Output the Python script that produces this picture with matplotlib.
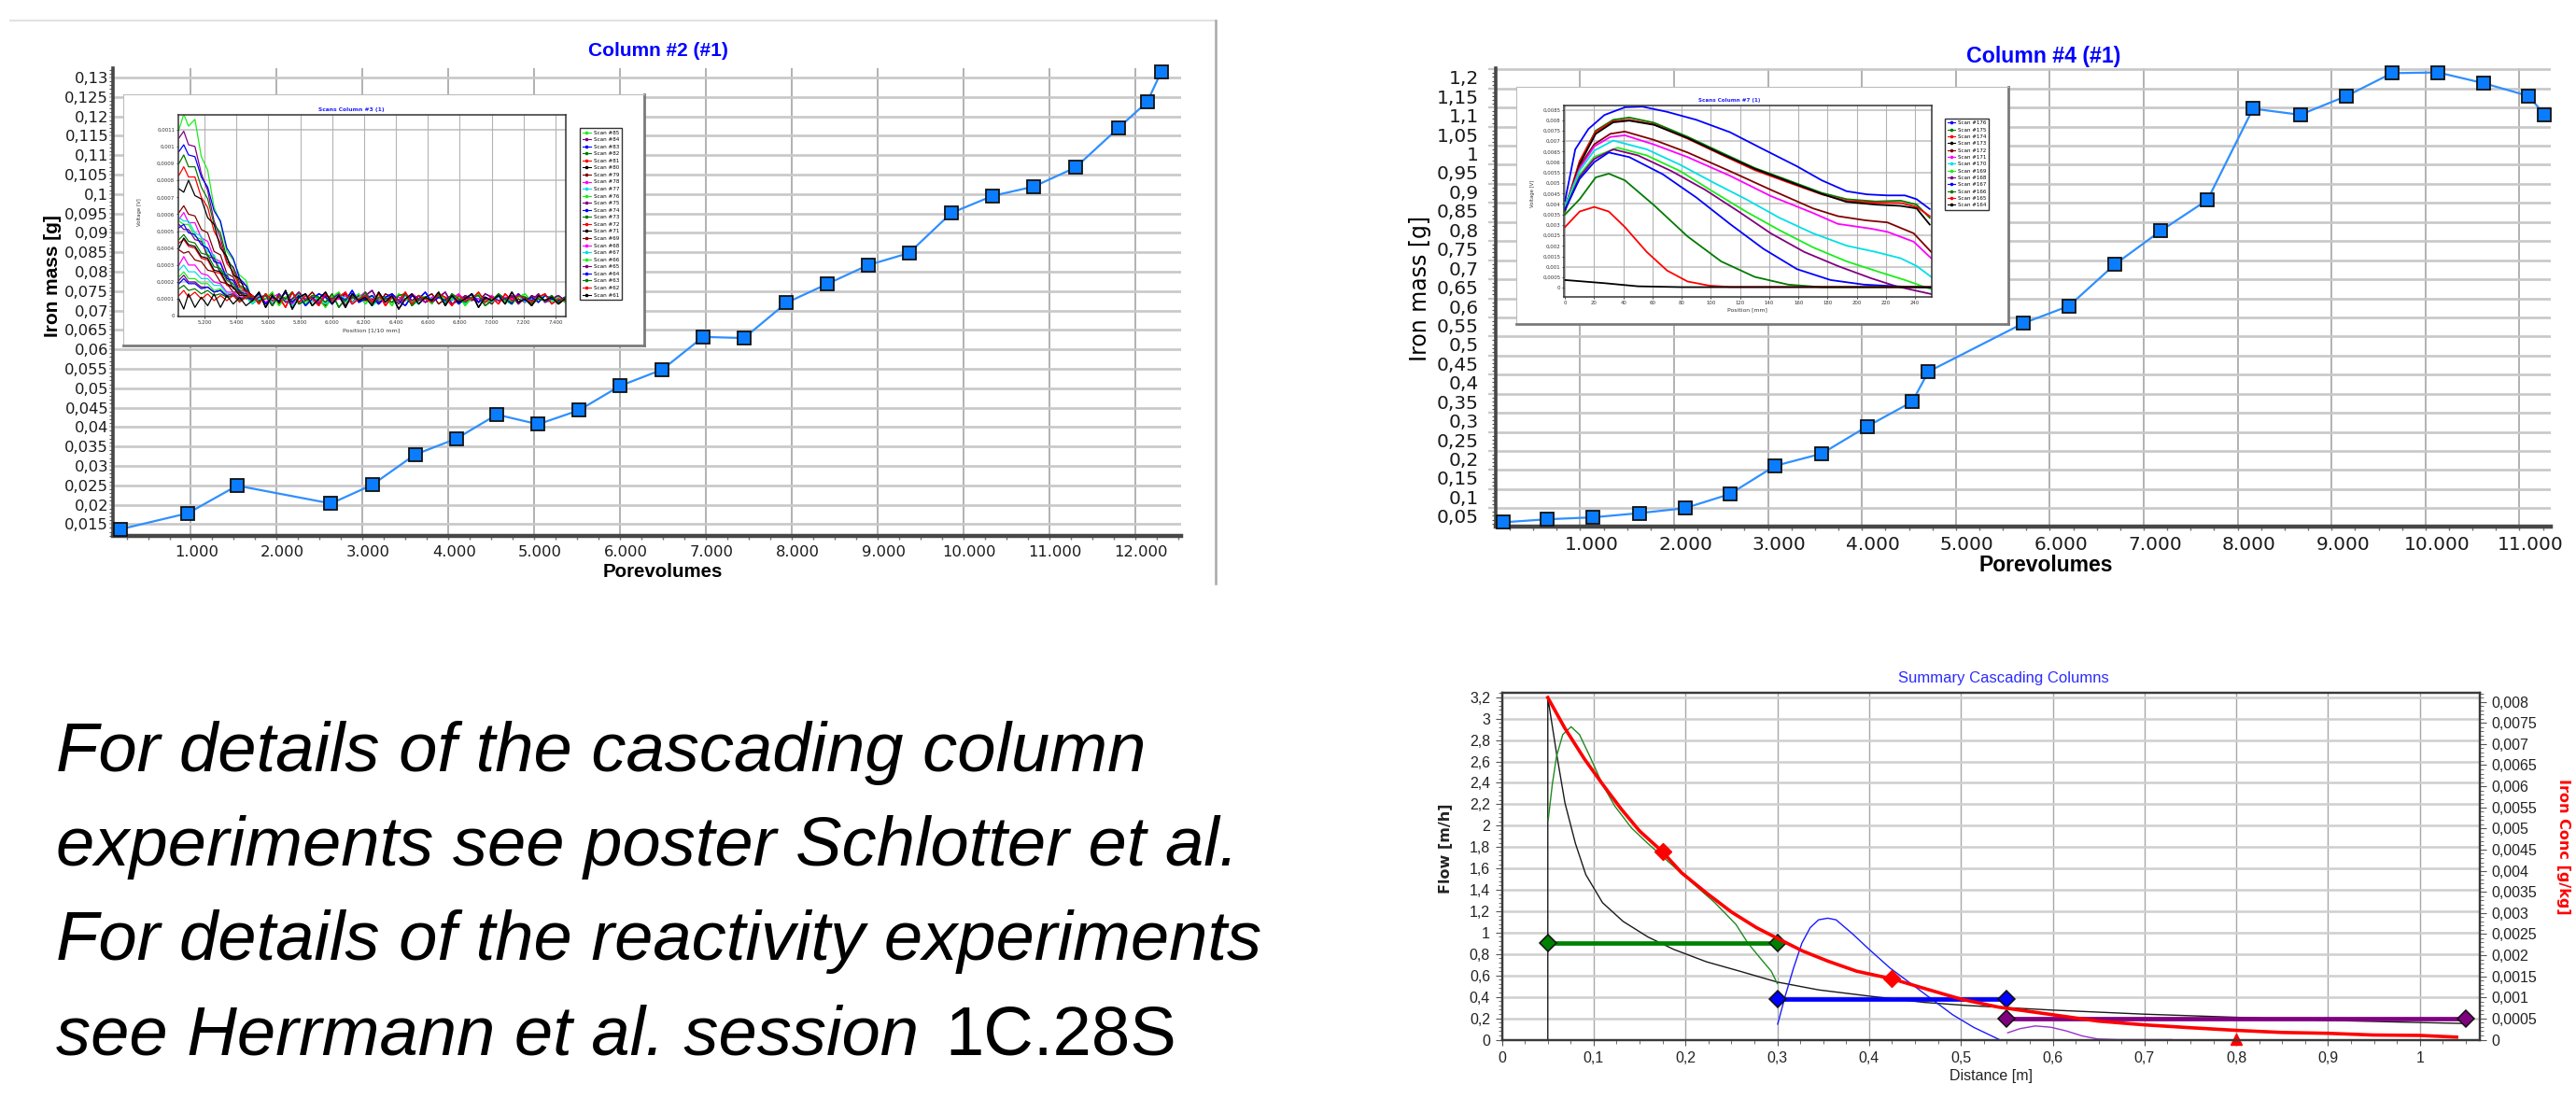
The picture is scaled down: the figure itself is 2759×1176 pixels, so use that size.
import numpy as np
import matplotlib
matplotlib.use("Agg")
import matplotlib.pyplot as plt
from matplotlib.lines import Line2D
from matplotlib.ticker import MultipleLocator, FuncFormatter
from matplotlib.transforms import ScaledTranslation

W, H = 2759, 1176
plt.rcParams['font.family'] = ['DejaVu Sans']

# ---------------- data ----------------
# Column #2 (#1): porevolumes vs iron mass [g]
pv_col2 = [184, 965, 1538, 2631, 3112, 3611, 4092, 4563, 5043, 5519, 6000, 6491, 6966,
           7443, 7937, 8408, 8889, 9365, 9856, 10336, 10816, 11302, 11803, 12138, 12303]
fe_col2 = [0.0137, 0.0178, 0.0249, 0.0203, 0.0251, 0.0329, 0.0370, 0.0432, 0.0407, 0.0443,
           0.0506, 0.0548, 0.0632, 0.0629, 0.0720, 0.0768, 0.0817, 0.0848, 0.0951, 0.0995,
           0.1019, 0.1068, 0.1170, 0.1237, 0.1315]

# Column #4 (#1)
pv_col4 = [177, 650, 1133, 1628, 2115, 2593, 3075, 3571, 4053, 4535, 4708, 5721,
           6205, 6693, 7182, 7679, 8164, 8665, 9158, 9642, 10131, 10616, 11100, 11267]
fe_col4 = [0.013, 0.021, 0.026, 0.037, 0.050, 0.087, 0.161, 0.193, 0.264, 0.329, 0.408, 0.535,
           0.580, 0.689, 0.777, 0.858, 1.097, 1.081, 1.130, 1.190, 1.192, 1.164, 1.130, 1.081]

# Scans Column #3 (1) -- voltage in 1e-5 V
scans3 = [85, 84, 83, 82, 81, 80, 79, 78, 77, 76, 75, 74, 73, 72, 71, 69, 68, 67, 66, 65, 64, 63, 62, 61]
pos3_head = [5040, 5070, 5100, 5140, 5180, 5220, 5260, 5300, 5340, 5380, 5420, 5460]
head3 = [
    [110, 119, 112, 116, 94, 86, 64, 55, 38, 33, 24, 21],
    [105, 109, 101, 100, 84, 74, 56, 46, 32, 29, 20, 18],
    [97, 101, 95, 94, 82, 76, 62, 56, 40, 34, 22, 18],
    [90, 95, 88, 88, 76, 69, 54, 49, 34, 28, 18, 16],
    [83, 88, 82, 82, 70, 64, 50, 43, 31, 26, 17, 15],
    [75, 73, 80, 71, 69, 58, 54, 40, 35, 24, 22, 14],
    [61, 65, 60, 59, 51, 49, 38, 36, 25, 23, 15, 15],
    [57, 61, 55, 55, 46, 44, 34, 32, 22, 21, 14, 14],
    [58, 56, 56, 49, 47, 38, 36, 27, 25, 17, 16, 11],
    [56, 54, 54, 47, 45, 36, 35, 26, 24, 16, 16, 11],
    [54, 51, 51, 45, 44, 35, 34, 25, 24, 16, 15, 11],
    [52, 54, 49, 48, 42, 40, 32, 31, 22, 21, 14, 13],
    [45, 48, 44, 43, 37, 36, 29, 28, 21, 19, 13, 13],
    [43, 45, 41, 40, 34, 33, 26, 25, 18, 17, 12, 12],
    [40, 46, 42, 41, 35, 34, 27, 26, 19, 17, 12, 12],
    [39, 37, 38, 33, 32, 27, 26, 20, 19, 14, 14, 10],
    [30, 35, 30, 30, 25, 24, 20, 19, 14, 14, 11, 11],
    [27, 30, 26, 26, 22, 22, 18, 18, 13, 13, 10, 11],
    [23, 26, 22, 22, 19, 19, 15, 16, 12, 13, 10, 11],
    [21, 24, 20, 20, 17, 17, 14, 15, 12, 13, 10, 11],
    [19, 22, 19, 19, 16, 17, 14, 15, 11, 12, 9, 11],
    [16, 18, 15, 16, 13, 15, 12, 13, 11, 12, 9, 11],
    [12, 15, 11, 14, 10, 13, 9, 12, 9, 12, 8, 11],
    [10, 4, 13, 5, 11, 6, 13, 5, 12, 7, 11, 6],
]
tail3 = {
    'black':   [9, 14, 5, 12, 8, 15, 4, 11, 13, 6, 10, 14, 7, 12, 5, 13, 9, 11, 6, 14, 8, 12, 4, 10,
                13, 7, 11, 9, 14, 6, 12, 8, 10, 13, 5, 11, 9, 12, 7, 14, 8, 10, 6, 12, 9, 11, 7, 10],
    'red':     [12, 7, 13, 9, 11, 5, 14, 8, 12, 10, 6, 13, 9, 11, 14, 7, 10, 12, 8, 13, 6, 11, 9, 14,
                7, 12, 10, 8, 13, 11, 6, 12, 9, 10, 14, 8, 11, 7, 13, 9, 12, 10, 8, 11, 13, 7, 10, 9],
    'lime':    [8, 12, 10, 14, 6, 11, 9, 13, 7, 12, 10, 5, 11, 14, 8, 10, 13, 7, 12, 9, 11, 6, 13, 10,
                8, 12, 11, 7, 14, 9, 10, 12, 6, 11, 13, 8, 10, 12, 9, 7, 11, 13, 8, 10, 12, 9, 11, 8],
    'green':   [11, 8, 13, 6, 12, 10, 14, 7, 9, 12, 11, 8, 13, 5, 10, 12, 9, 14, 7, 11, 10, 8, 12, 13,
                6, 10, 11, 9, 12, 7, 13, 10, 8, 11, 12, 6, 9, 13, 10, 8, 12, 11, 7, 10, 9, 12, 8, 11],
    'blue':    [10, 13, 7, 11, 9, 14, 8, 12, 6, 10, 13, 11, 7, 12, 9, 15, 8, 10, 12, 7, 11, 13, 9, 6,
                12, 10, 14, 8, 11, 9, 12, 7, 10, 13, 8, 11, 9, 12, 10, 7, 13, 9, 11, 8, 12, 10, 9, 11],
    'purple':  [9, 11, 12, 6, 13, 8, 10, 14, 9, 11, 7, 12, 10, 13, 6, 11, 9, 12, 15, 8, 10, 11, 7, 13,
                9, 12, 8, 10, 11, 14, 7, 9, 12, 10, 8, 13, 11, 9, 10, 12, 7, 11, 9, 13, 8, 10, 12, 9],
    'maroon':  [12, 9, 10, 13, 7, 11, 8, 12, 10, 14, 9, 6, 11, 10, 13, 8, 12, 9, 10, 7, 13, 11, 8, 10,
                12, 9, 11, 13, 7, 10, 12, 8, 11, 9, 13, 10, 7, 12, 9, 11, 10, 8, 12, 10, 9, 11, 8, 10],
    'magenta': [10, 12, 8, 11, 13, 9, 7, 12, 10, 11, 8, 13, 9, 10, 12, 7, 11, 14, 9, 10, 8, 12, 11, 9,
                13, 10, 8, 11, 12, 7, 10, 13, 9, 11, 10, 8, 12, 9, 11, 10, 13, 8, 10, 12, 9, 11, 10, 9],
    'cyan':    [7, 10, 12, 8, 11, 9, 6, 10, 12, 8, 11, 7, 9, 13, 10, 8, 11, 12, 6, 9, 11, 10, 8, 12,
                9, 7, 11, 10, 12, 8, 9, 11, 7, 10, 12, 9, 8, 11, 10, 9, 12, 8, 10, 11, 9, 8, 10, 9],
}

# Scans Column #7 (1) -- position [mm], voltage in 1e-4 V
scans7 = [176, 175, 174, 173, 172, 171, 170, 169, 168, 167, 166, 165, 164]
pos7 = [
    [0, 7, 16, 27, 41, 53, 70, 90, 113, 136, 159, 176, 193, 207, 221, 233, 241, 250],
    [0, 10, 21, 33, 44, 61, 84, 107, 130, 153, 176, 193, 213, 230, 241, 250],
    [0, 10, 21, 33, 44, 61, 84, 107, 130, 153, 176, 193, 213, 230, 241, 250],
    [0, 10, 21, 33, 44, 61, 84, 107, 130, 153, 176, 193, 213, 230, 241, 250],
    [0, 10, 20, 31, 41, 61, 84, 113, 141, 170, 187, 206, 221, 239, 251],
    [0, 10, 20, 31, 41, 61, 84, 113, 141, 170, 187, 210, 221, 239, 251],
    [0, 10, 20, 33, 56, 79, 101, 124, 147, 170, 193, 213, 230, 241, 251],
    [0, 10, 20, 36, 56, 79, 101, 124, 147, 170, 193, 216, 233, 251],
    [0, 10, 20, 33, 50, 73, 96, 119, 141, 164, 187, 210, 227, 251],
    [0, 10, 20, 30, 44, 67, 90, 113, 136, 159, 182, 205, 228, 251],
    [0, 10, 21, 30, 41, 61, 84, 107, 130, 153, 176, 251],
    [0, 10, 20, 30, 41, 56, 70, 84, 99, 113, 251],
    [0, 27, 50, 80, 120, 251],
]
volt7 = [
    [41.6, 66.1, 75.8, 82.5, 86.2, 86.5, 84.0, 80.2, 74.3, 66.1, 58.0, 51.3, 46.1, 44.6, 44.1, 44.1, 42.3, 37.6],
    [36.4, 60.2, 75.0, 80.2, 81.3, 78.8, 72.1, 64.6, 57.2, 51.3, 45.3, 42.3, 41.2, 41.6, 39.7, 33.4],
    [37.9, 60.5, 74.5, 79.5, 80.2, 78.0, 71.2, 63.6, 56.2, 50.3, 44.6, 41.5, 40.6, 40.5, 38.6, 34.2],
    [37.5, 59.0, 73.5, 79.0, 79.8, 77.8, 71.5, 64.0, 56.8, 50.8, 44.8, 41.0, 39.7, 39.1, 37.9, 30.2],
    [39.0, 58.0, 68.5, 73.5, 74.6, 70.6, 64.6, 55.7, 46.8, 37.9, 34.2, 32.2, 31.2, 26.0, 17.1],
    [38.5, 57.0, 67.5, 72.0, 72.8, 68.4, 62.4, 53.5, 43.8, 35.7, 30.5, 28.2, 26.7, 22.0, 14.1],
    [39.0, 56.0, 65.5, 70.3, 66.1, 58.7, 50.5, 42.3, 33.4, 26.0, 20.1, 17.1, 14.1, 10.4, 5.2],
    [38.0, 54.0, 62.5, 66.9, 63.2, 55.7, 46.1, 36.4, 27.5, 19.3, 12.6, 7.4, 3.7, -0.7],
    [37.0, 53.0, 61.5, 66.1, 63.2, 55.7, 46.8, 36.4, 26.0, 17.1, 10.4, 4.5, 0.7, -3.0],
    [37.5, 52.0, 60.0, 64.6, 62.4, 54.2, 43.1, 30.5, 18.6, 8.9, 3.7, 1.5, 0.7, 0.0],
    [35.0, 42.3, 52.7, 54.5, 51.3, 39.4, 24.5, 12.6, 5.2, 1.5, 0.3, 0.3],
    [29.0, 36.4, 38.6, 36.4, 29.0, 17.1, 8.2, 3.0, 1.0, 0.4, 0.4],
    [3.7, 2.2, 0.7, 0.3, 0.3, 0.3],
]

# Summary Cascading Columns
dist_black = [0.05, 0.05, 0.0595, 0.0687, 0.0801, 0.0914, 0.1096, 0.132, 0.159, 0.187, 0.223, 0.259,
              0.3, 0.345, 0.4, 0.459, 0.505, 0.6, 0.7, 0.8, 0.9, 1.0, 1.049]
flow_black = [0, 3.2, 2.676, 2.211, 1.833, 1.542, 1.28, 1.105, 0.96, 0.844, 0.727, 0.64,
              0.538, 0.465, 0.407, 0.349, 0.32, 0.276, 0.238, 0.209, 0.18, 0.16, 0.151]
dist_green = [0.0504, 0.0549, 0.0595, 0.0663, 0.0754, 0.0845, 0.0958, 0.1096, 0.123, 0.1412, 0.159,
              0.182, 0.2049, 0.232, 0.255, 0.268, 0.282, 0.2934, 0.3]
flow_green = [2.05, 2.385, 2.647, 2.851, 2.924, 2.851, 2.647, 2.385, 2.182, 1.978, 1.833,
              1.658, 1.484, 1.28, 1.076, 0.902, 0.756, 0.64, 0.524]
dist_blue = [0.3004, 0.3086, 0.3177, 0.3268, 0.3359, 0.345, 0.355, 0.364, 0.3819, 0.4, 0.4228,
             0.4455, 0.4683, 0.491, 0.5137, 0.542]
flow_blue = [0.145, 0.407, 0.669, 0.902, 1.047, 1.12, 1.135, 1.12, 0.989, 0.844, 0.669,
             0.524, 0.378, 0.233, 0.116, 0.0]
dist_purple = [0.551, 0.564, 0.581, 0.598, 0.615, 0.632, 0.649, 0.671, 0.73]
flow_purple = [0.064, 0.102, 0.128, 0.116, 0.081, 0.035, 0.006, 0.0, 0.0]
bar_start = [0.05, 0.3, 0.55]
bar_end = [0.3, 0.55, 1.05]
bar_flow = [0.9, 0.38, 0.2]
bar_colors = ['#008000', '#0000ff', '#800080']
dist_red = [0.05, 0.0687, 0.0901, 0.1096, 0.13, 0.15, 0.1744, 0.1958, 0.223, 0.2502, 0.2775, 0.3,
            0.3275, 0.355, 0.3865, 0.425, 0.459, 0.5, 0.541, 0.6, 0.649, 0.7, 0.752, 0.8, 0.85,
            0.9, 0.949, 1.0, 1.04]
conc_red = [0.0081, 0.00737, 0.00664, 0.00605, 0.00546, 0.00494, 0.00446, 0.00395, 0.00347,
            0.00302, 0.00265, 0.0024, 0.0021, 0.00186, 0.00162, 0.00144, 0.00122, 0.00096,
            0.00077, 0.00059, 0.00044, 0.00035, 0.00028, 0.00022, 0.00017, 0.00015, 0.00011,
            0.0001, 0.00006]
red_marks_d = [0.175, 0.425]
red_marks_c = [0.00446, 0.00144]

note_lines = ["For details of the cascading column",
              "experiments see poster Schlotter et al.",
              "For details of the reactivity experiments",
              "see Herrmann et al. session "]
note_code = "1C.28S"

COL = {'lime': '#1aee1a', 'purple': '#800080', 'blue': '#0000ff', 'green': '#007a00',
       'red': '#ff0000', 'black': '#000000', 'maroon': '#800000', 'magenta': '#ff00ff',
       'cyan': '#00e0e6'}
order3 = ['lime', 'purple', 'blue', 'green', 'red', 'black', 'maroon', 'magenta', 'cyan']
order7 = ['blue', 'green', 'red', 'black', 'maroon', 'magenta', 'cyan', 'lime', 'purple']

# ---------------- helpers ----------------
fig = plt.figure(figsize=(W / 100, H / 100), dpi=100)
fig.patch.set_facecolor('white')


def rect(x0, y0, x1, y1):
    return [x0 / W, 1 - y1 / H, (x1 - x0) / W, (y1 - y0) / H]


def ftext(x, y, s, **kw):
    kw.setdefault('ha', 'center')
    kw.setdefault('va', 'center')
    return fig.text(x / W, 1 - y / H, s, **kw)


def shift(labels, dx, dy):
    for t in labels:
        t.set_transform(t.get_transform() + ScaledTranslation(dx / 100, -dy / 100, fig.dpi_scale_trans))


thou = FuncFormatter(lambda v, p: f"{int(round(v)):,}".replace(",", "."))


def comma(nd):
    return FuncFormatter(lambda v, p: f"{v:.{nd}f}".rstrip("0").rstrip(".").replace(".", ","))


def column_panel(r, pv, fe, xlim, ylim, yticks, ynd, yminor, fs, ypad, ylen):
    ax = fig.add_axes(rect(*r))
    ax.plot(pv, fe, color='#2f8fff', lw=1.6, marker='s', ms=9.5, mfc='#0a7cff',
            mec='#111111', mew=1.3, zorder=3, clip_on=False)
    ax.set_xlim(xlim)
    ax.set_ylim(ylim)
    ax.set_xticks(range(1000, int(xlim[1]) + 1, 1000))
    ax.xaxis.set_minor_locator(MultipleLocator(250))
    ax.set_yticks(yticks)
    ax.yaxis.set_minor_locator(MultipleLocator(yminor))
    ax.xaxis.set_major_formatter(thou)
    ax.yaxis.set_major_formatter(comma(ynd))
    ax.grid(axis='y', color='#c8c8c8', lw=1.9)
    ax.grid(axis='x', color='#ababab', lw=1.3)
    ax.set_axisbelow(True)
    ax.spines['top'].set_visible(False)
    ax.spines['right'].set_visible(False)
    ax.spines['bottom'].set_color('#474747')
    ax.spines['bottom'].set_linewidth(3.2)
    ax.spines['left'].set_color('#474747')
    ax.spines['left'].set_linewidth(2.6)
    ax.tick_params(axis='x', which='both', direction='out', length=3, width=1, color='#777777',
                   labelsize=fs, labelcolor='#1a1a1a', pad=4)
    ax.tick_params(axis='y', which='major', length=ylen, width=1.6, color='#c8c8c8',
                   labelsize=fs, labelcolor='#1a1a1a', pad=ypad)
    ax.tick_params(axis='y', which='minor', length=3, width=0.8, color='#555555')
    return ax


def inset_panel(box, inner, xlim, ylim, xticks, yticks, xfmt, yfmt, gridy):
    bx = fig.add_axes(rect(*box))
    bx.set_xticks([])
    bx.set_yticks([])
    for s in ['left', 'top']:
        bx.spines[s].set_color('#bdbdbd')
    for s in ['right', 'bottom']:
        bx.spines[s].set_color('#7a7a7a')
        bx.spines[s].set_linewidth(2)
    ia = fig.add_axes(rect(*inner))
    ia.set_xlim(xlim)
    ia.set_ylim(ylim)
    ia.set_xticks(xticks)
    ia.set_yticks(yticks)
    ia.xaxis.set_major_formatter(xfmt)
    ia.yaxis.set_major_formatter(yfmt)
    ia.grid(axis='x', color='#b4b4b4', lw=0.8)
    for g in gridy:
        ia.axhline(g, color='#c4c4c4', lw=1.2, zorder=0)
    ia.set_axisbelow(True)
    for s in ia.spines.values():
        s.set_color('#333333')
        s.set_linewidth(1.1)
    ia.tick_params(which='both', labelsize=3.9, length=1.5, width=0.5, pad=1.2, labelcolor='#333333')
    return ia


# ---------------- Column #2 panel ----------------
ax1 = column_panel((121, 73, 1265, 574), pv_col2, fe_col2, (92, 12533), (0.01195, 0.1324),
                   [round(0.015 + 0.005 * i, 3) for i in range(24)], 3, 0.001, 11.8, 0.5, 3)
shift(ax1.get_xticklabels(), 6, 0)
ftext(705, 55, "Column #2 (#1)", color='#0000ff', fontsize=15, fontweight='bold', family='Liberation Sans')
ftext(57, 296, "Iron mass [g]", rotation=90, fontsize=15, fontweight='bold', family='Liberation Sans')
ftext(710, 612, "Porevolumes", fontsize=14.8, fontweight='bold', family='Liberation Sans')
fig.add_artist(Line2D([11 / W, 1302 / W], [1 - 22 / H, 1 - 22 / H], color='#e2e2e2', lw=1.5))
fig.add_artist(Line2D([1302 / W, 1302 / W], [1 - 22 / H, 1 - 625 / H], color='#a8a8a8', lw=1.8))

in1 = inset_panel((132, 101, 690, 369.6), (191, 123.3, 606, 339.3), (5036, 7465), (-0.0000055, 0.001185),
                  range(5200, 7401, 200), [round(0.0001 * i, 4) for i in range(12)], thou, comma(4),
                  [0.0002, 0.0005, 0.0008, 0.0011])
pos3_tail = np.linspace(5500, 7460, len(tail3['black']))
for i, sc in enumerate(scans3):
    c = order3[i % 9]
    xs = list(pos3_head) + list(pos3_tail)
    ys = [v * 1e-5 for v in head3[i] + tail3[c]]
    in1.plot(xs, ys, color=COL[c], lw=0.9)
h1 = [Line2D([], [], color=COL[order3[i % 9]], lw=0.8, marker='o', ms=1.6) for i in range(len(scans3))]
in1.legend(h1, [f"Scan #{s}" for s in scans3], loc='upper left', bbox_to_anchor=(621 / W, 1 - 137 / H),
           bbox_transform=fig.transFigure, fontsize=4.1, frameon=True, fancybox=False, edgecolor='#333333',
           borderpad=0.45, labelspacing=0.45, handlelength=1.6, handletextpad=0.5, borderaxespad=0,
           framealpha=1)
ftext(376, 117, "Scans Column #3 (1)", color='#2020ff', fontsize=4.3, fontweight='bold')
ftext(150, 227, "Voltage [V]", rotation=90, fontsize=3.9, color='#333333')
ftext(398, 354, "Position [1/10 mm]", fontsize=4.6, color='#333333')

# ---------------- Column #4 panel ----------------
ax2 = column_panel((1601.7, 73.3, 2731.8, 564), pv_col4, fe_col4, (98, 11332), (0.0018, 1.2024),
                   [round(0.05 * i, 2) for i in range(1, 25)], 2, 0.01, 14.5, 7, 6)
shift(ax2.get_xticklabels(), 12, 0)
shift(ax2.get_yticklabels(), 0, 8.5)
ftext(2189, 60, "Column #4 (#1)", color='#0000ff', fontsize=16.7, fontweight='bold', family='Liberation Sans')
ftext(1521, 309, "Iron mass [g]", rotation=90, fontsize=17)
ftext(2191, 605, "Porevolumes", fontsize=16.5, fontweight='bold', family='Liberation Sans')

in2 = inset_panel((1623.5, 93.3, 2150.7, 346.7), (1675.3, 113.3, 2069, 318.3), (-0.6, 251.4),
                  (-0.00045, 0.00869), range(0, 241, 20), [round(0.0005 * i, 4) for i in range(18)],
                  FuncFormatter(lambda v, p: f"{int(round(v))}"), comma(4),
                  [0.001, 0.0025, 0.004, 0.0055, 0.007, 0.0085])
for i, sc in enumerate(scans7):
    in2.plot(pos7[i], [v * 1e-4 for v in volt7[i]], color=COL[order7[i % 9]], lw=1.3)
h2 = [Line2D([], [], color=COL[order7[i % 9]], lw=0.8, marker='o', ms=1.6) for i in range(len(scans7))]
in2.legend(h2, [f"Scan #{s}" for s in scans7], loc='upper left', bbox_to_anchor=(2083 / W, 1 - 126.7 / H),
           bbox_transform=fig.transFigure, fontsize=4.0, frameon=True, fancybox=False, edgecolor='#333333',
           borderpad=0.45, labelspacing=0.42, handlelength=1.6, handletextpad=0.5, borderaxespad=0,
           framealpha=1)
ftext(1852, 108, "Scans Column #7 (1)", color='#2020ff', fontsize=4.1, fontweight='bold')
ftext(1642, 207, "Voltage [V]", rotation=90, fontsize=3.8, color='#333333')
ftext(1871, 332, "Position [mm]", fontsize=4.4, color='#333333')

# ---------------- Summary Cascading Columns ----------------
ax3 = fig.add_axes(rect(1608.6, 741.7, 2655.7, 1113.5))
ax3.set_xlim(0, 1.065)
ax3.set_ylim(0, 3.244)
ax3.set_xticks([round(0.1 * i, 1) for i in range(11)])
ax3.xaxis.set_minor_locator(MultipleLocator(0.025))
ax3.set_yticks([round(0.2 * i, 1) for i in range(17)])
ax3.yaxis.set_minor_locator(MultipleLocator(0.04))
ax3.xaxis.set_major_formatter(comma(1))
ax3.yaxis.set_major_formatter(comma(1))
ax3.grid(axis='y', color='#cfcfcf', lw=1.8)
ax3.grid(axis='x', color='#a8a8a8', lw=1.0)
ax3.set_axisbelow(True)
for s in ax3.spines.values():
    s.set_color('#3a3a3a')
    s.set_linewidth(1.6)
ax3.tick_params(which='both', direction='out', color='#555555', labelsize=11.5, labelcolor='#222222',
                labelfontfamily='Liberation Sans')
ax3.tick_params(axis='x', which='major', length=4, pad=5)
ax3.tick_params(axis='x', which='minor', length=3)
ax3.tick_params(axis='y', which='major', length=5, pad=4)
ax3.tick_params(axis='y', which='minor', length=3)

ax3.plot(dist_black, flow_black, color='#1a1a1a', lw=1.0)
ax3.plot(dist_green, flow_green, color='#1f8a1f', lw=1.0)
ax3.plot(dist_blue, flow_blue, color='#1a1aff', lw=1.0)
ax3.plot(dist_purple, flow_purple, color='#9932cc', lw=1.0)
for x0, x1, f, c in zip(bar_start, bar_end, bar_flow, bar_colors):
    ax3.plot([x0, x1], [f, f], color=c, lw=3.4, solid_capstyle='butt', zorder=4)
    ax3.plot([x0, x1], [f, f], ls='none', marker='D', ms=9, mfc=c, mec='#111111', mew=1.1, zorder=5,
             clip_on=False)

ax3r = ax3.twinx()
ax3r.set_ylim(0, 0.00822)
ax3r.set_yticks([round(0.0005 * i, 4) for i in range(17)])
ax3r.yaxis.set_minor_locator(MultipleLocator(0.0001))
ax3r.yaxis.set_major_formatter(comma(4))
for s in ax3r.spines.values():
    s.set_color('#3a3a3a')
    s.set_linewidth(1.6)
ax3r.tick_params(which='both', direction='out', color='#555555', labelsize=11.5, labelcolor='#222222',
                 labelfontfamily='Liberation Sans')
ax3r.tick_params(axis='y', which='major', length=5, pad=4)
ax3r.tick_params(axis='y', which='minor', length=3)
ax3r.plot(dist_red, conc_red, color='#ff0000', lw=2.6)
ax3r.plot(red_marks_d, red_marks_c, ls='none', marker='D', ms=9, color='#ff0000')
ax3r.plot([0.8], [0.00002], ls='none', marker='^', ms=8, color='#ff0000', clip_on=False)

ftext(2146, 726, "Summary Cascading Columns", color='#2b2bff', fontsize=12, family='Liberation Sans')
ftext(2132, 1152, "Distance [m]", fontsize=11.5, color='#222222', family='Liberation Sans')
ftext(1548, 909, "Flow [m/h]", rotation=90, fontsize=11.5, fontweight='bold', color='#222222')
ftext(2746, 907, "Iron Conc [g/kg]", rotation=270, fontsize=11.5, fontweight='bold', color='#ff0000')

# ---------------- note text ----------------
for k, line in enumerate(note_lines):
    ftext(60, 826 + 101 * k, line, ha='left', va='baseline', fontsize=53.5, style='italic',
          family='Liberation Sans')
ftext(1012, 826 + 101 * 3, note_code, ha='left', va='baseline', fontsize=53.5, family='Liberation Sans')

fig.savefig("out.png", dpi=100, facecolor='white')
